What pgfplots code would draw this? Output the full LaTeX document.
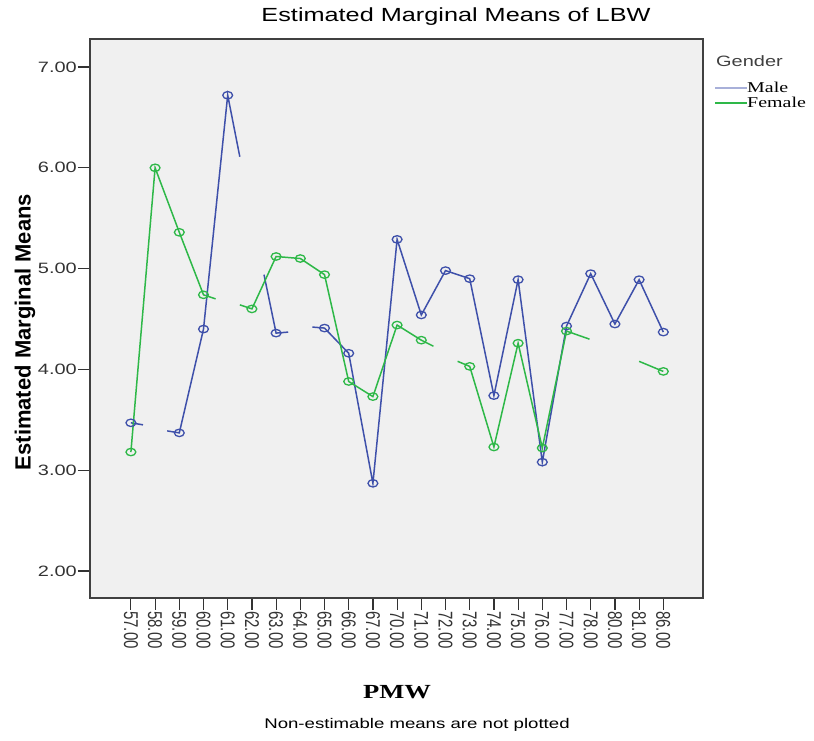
\documentclass[border=0pt]{standalone}
\usepackage{pgfplots}
\pgfplotsset{compat=1.18}
\usepackage{fontspec}
\setmainfont{Liberation Sans}
\newfontfamily\seriffont{Liberation Serif}
\definecolor{maleC}{RGB}{62,80,170}
\definecolor{femaleC}{RGB}{46,184,72}
\definecolor{bgG}{RGB}{240,240,240}
\newcommand{\sx}[1]{\scalebox{1.33}[1]{#1}}
\newcommand{\rx}[1]{\scalebox{1}[1.33]{#1}}

\pgfplotstableread{
x y
0 3.47
0.5 3.45
1 nan
1.5 3.39
2 3.37
3 4.40
4 6.72
4.5 6.11
5 nan
5.5 4.94
6 4.36
6.5 4.37
7 nan
7.5 4.42
8 4.41
9 4.16
10 2.87
11 5.29
12 4.54
13 4.98
14 4.90
15 3.74
16 4.89
17 3.08
18 4.43
19 4.95
20 4.45
21 4.89
22 4.37
}\maleline

\pgfplotstableread{
x y
0 3.47
2 3.37
3 4.40
4 6.72
6 4.36
8 4.41
9 4.16
10 2.87
11 5.29
12 4.54
13 4.98
14 4.90
15 3.74
16 4.89
17 3.08
18 4.43
19 4.95
20 4.45
21 4.89
22 4.37
}\malepts

\pgfplotstableread{
x y
0 3.18
1 6.00
2 5.36
3 4.74
3.5 4.70
4 nan
4.5 4.64
5 4.60
6 5.12
7 5.10
8 4.94
9 3.88
10 3.73
11 4.44
12 4.29
12.5 4.23
13 nan
13.5 4.08
14 4.03
15 3.23
16 4.26
17 3.22
18 4.38
18.95 4.30
19.5 nan
21.0 4.08
22 3.98
}\femaleline

\pgfplotstableread{
x y
0 3.18
1 6.00
2 5.36
3 4.74
5 4.60
6 5.12
7 5.10
8 4.94
9 3.88
10 3.73
11 4.44
12 4.29
14 4.03
15 3.23
16 4.26
17 3.22
18 4.38
22 3.98
}\femalepts

\begin{document}
\begin{tikzpicture}[x=1pt,y=1pt]
\path[use as bounding box] (0,0) rectangle (814,741);
\begin{axis}[
  at={(90pt,143pt)}, anchor=south west, scale only axis,
  width=613pt, height=559pt,
  xmin=-1.69, xmax=23.64, ymin=1.732, ymax=7.278,
  axis background/.style={fill=bgG},
  axis line style={draw=black!75, line width=1.2pt},
  tick align=outside, major tick length=12pt, tick pos=left,
  tick style={black!80, line width=1.2pt},
  xtick={0,...,22},
  xticklabels={\rx{57.00},\rx{58.00},\rx{59.00},\rx{60.00},\rx{61.00},\rx{62.00},\rx{63.00},\rx{64.00},\rx{65.00},\rx{66.00},\rx{67.00},\rx{70.00},\rx{71.00},\rx{72.00},\rx{73.00},\rx{74.00},\rx{75.00},\rx{76.00},\rx{77.00},\rx{78.00},\rx{80.00},\rx{81.00},\rx{86.00}},
  ytick={2,3,4,5,6,7},
  yticklabels={\sx{2.00},\sx{3.00},\sx{4.00},\sx{5.00},\sx{6.00},\sx{7.00}},
  xticklabel style={rotate=-90, anchor=west, font=\fontsize{15}{15}\selectfont, text=black!80, inner sep=1pt},
  yticklabel style={font=\fontsize{15}{15}\selectfont, text=black!80, inner sep=1pt},
  unbounded coords=jump,
]
\addplot[maleC, line width=1.5pt, mark=none] table[x=x,y=y] {\maleline};
\addplot[maleC, only marks, mark=o, mark size=3.7pt, mark options={xscale=1.33, line width=1.3pt}] table[x=x,y=y] {\malepts};
\addplot[femaleC, line width=1.5pt, mark=none] table[x=x,y=y] {\femaleline};
\addplot[femaleC, only marks, mark=o, mark size=3.7pt, mark options={xscale=1.33, line width=1.3pt}] table[x=x,y=y] {\femalepts};
\end{axis}
% titles
\node at (456,724) {\fontsize{19}{19}\selectfont\sx{Estimated Marginal Means of LBW}};
\node[rotate=90] at (25,409) {\fontsize{22}{22}\selectfont\bfseries Estimated Marginal Means};
\node at (397,49) {\fontsize{20}{20}\selectfont\seriffont\bfseries\sx{PMW}};
\node at (417,16) {\fontsize{14}{14}\selectfont\sx{Non-estimable means are not plotted}};
% legend
\node[anchor=west, inner sep=0pt] at (716,680) {\fontsize{15}{15}\selectfont\color{black!75}\sx{Gender}};
\draw[maleC!45, line width=1.5pt] (715,653) -- (747,653);
\node[anchor=west, inner sep=0pt] at (747,654) {\fontsize{15}{15}\selectfont\seriffont\sx{Male}};
\draw[femaleC, line width=1.5pt] (715,638) -- (747,638);
\node[anchor=west, inner sep=0pt] at (747,639) {\fontsize{15}{15}\selectfont\seriffont\sx{Female}};
\end{tikzpicture}
\end{document}
